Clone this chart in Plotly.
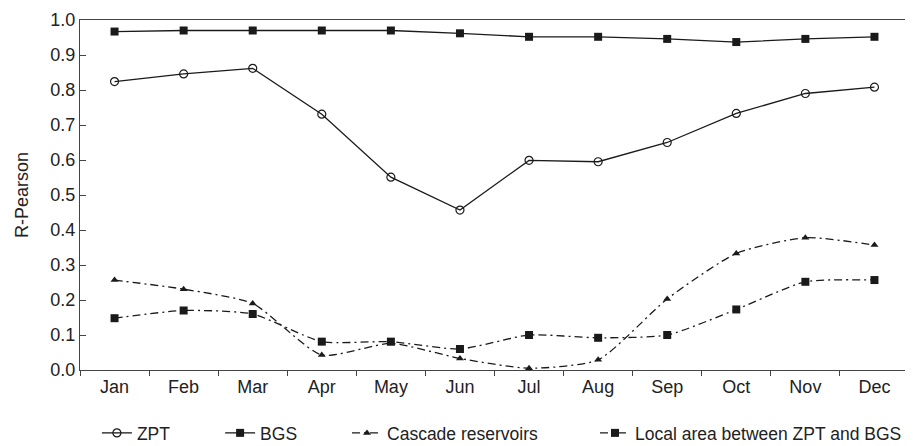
import plotly.graph_objects as go

months = ["Jan", "Feb", "Mar", "Apr", "May", "Jun", "Jul", "Aug", "Sep", "Oct", "Nov", "Dec"]
zpt = [0.824, 0.846, 0.862, 0.731, 0.551, 0.457, 0.599, 0.595, 0.650, 0.733, 0.790, 0.808]
bgs = [0.967, 0.970, 0.970, 0.970, 0.970, 0.962, 0.952, 0.952, 0.946, 0.937, 0.946, 0.952]
cascade = [0.257, 0.231, 0.190, 0.043, 0.076, 0.033, 0.005, 0.029, 0.203, 0.333, 0.378, 0.357]
local = [0.148, 0.170, 0.160, 0.081, 0.081, 0.060, 0.100, 0.092, 0.100, 0.173, 0.252, 0.257]

LC = "#1a1a1a"
AX = "#444"
DASH = "8px,4px,2px,4px"
FONT = "Liberation Sans, Arial, sans-serif"

fig = go.Figure()
fig.add_trace(go.Scatter(x=months, y=zpt, name="ZPT", mode="lines+markers", legend="legend",
                         line=dict(color=LC, width=1.3),
                         marker=dict(symbol="circle-open", size=8, color=LC, line=dict(width=1.2))))
fig.add_trace(go.Scatter(x=months, y=bgs, name="BGS", mode="lines+markers", legend="legend2",
                         line=dict(color=LC, width=1.3),
                         marker=dict(symbol="square", size=8, color=LC)))
fig.add_trace(go.Scatter(x=months, y=cascade, name="Cascade reservoirs", mode="lines+markers",
                         legend="legend3",
                         line=dict(color=LC, width=1.3, dash=DASH, shape="spline", smoothing=0.6),
                         marker=dict(symbol="triangle-up", size=7, color=LC)))
fig.add_trace(go.Scatter(x=months, y=local, name="Local area between ZPT and BGS", mode="lines+markers",
                         legend="legend4",
                         line=dict(color=LC, width=1.3, dash=DASH, shape="spline", smoothing=0.6),
                         marker=dict(symbol="square", size=8, color=LC)))

def leg(xpos):
    return dict(orientation="h", x=xpos, xanchor="left", y=-0.18, yanchor="middle",
                font=dict(size=17.5, family=FONT, color="#222"), bgcolor="rgba(0,0,0,0)")

fig.update_layout(
    width=913, height=446,
    margin=dict(l=72, r=12, t=12, b=84, autoexpand=False),
    plot_bgcolor="white", paper_bgcolor="white",
    font=dict(family=FONT, size=18, color="#222"),
    showlegend=True,
    legend=leg(0.0204), legend2=leg(0.169), legend3=leg(0.3221), legend4=leg(0.6212),
)
fig.update_xaxes(type="category", showgrid=False, showline=True, linecolor=AX, linewidth=1,
                 mirror=True, ticks="outside", ticklen=5, tickcolor=AX, tickson="boundaries",
                 range=[-0.5, 11.5], tickfont=dict(size=18), automargin=False)
fig.update_yaxes(range=[0, 1], dtick=0.1, tickformat=".1f", showgrid=False, showline=True,
                 linecolor=AX, linewidth=1, mirror=True, ticks="inside", ticklen=6,
                 tickcolor=AX, zeroline=False, tickfont=dict(size=18), automargin=False,
                 title=dict(text="R-Pearson", font=dict(size=18), standoff=17))

fig.write_html("out.html")
